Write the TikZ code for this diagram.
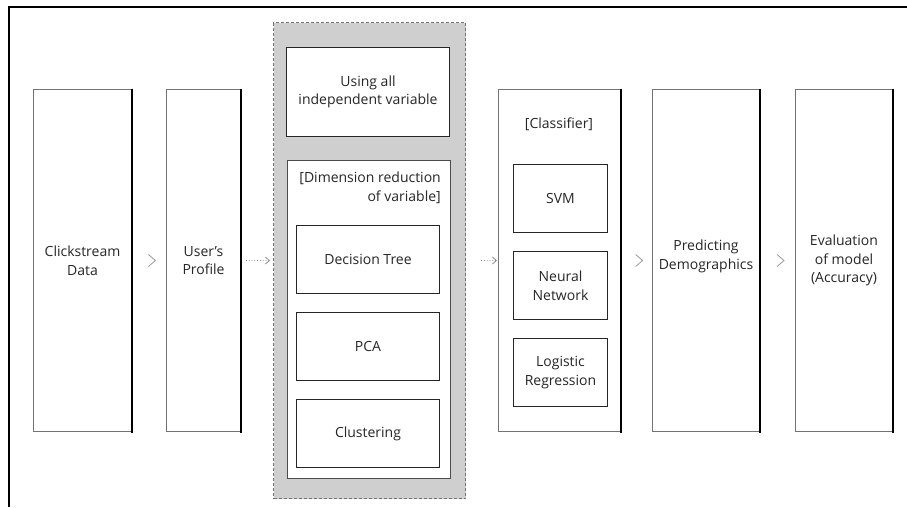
\documentclass[tikz,border=0pt]{standalone}
\usepackage{fontspec}
\setmainfont{Open Sans}
\usetikzlibrary{arrows.meta,calc}
\begin{document}
\begin{tikzpicture}[x=1pt,y=-1pt,
  txt/.style={font=\fontsize{14}{18.5}\selectfont, text=black!85},
  box/.style={txt, draw=black!55, line width=1pt, fill=white, anchor=north west,
    inner sep=0pt, align=center,
    append after command={(\tikzlastnode.north east) edge[black, line width=1.2pt, shorten <=-0.5pt, shorten >=-0.5pt] (\tikzlastnode.south east)}},
  inbox/.style={txt, draw=black!85, line width=1pt, fill=white, anchor=north west,
    inner sep=0pt, align=center},
  region/.style={draw=black!55, dashed, dash pattern=on 3pt off 2pt, line width=1.2pt,
    fill=black!19, anchor=north west, inner sep=0pt},
  chev/.style={draw=black!40, line width=0.8pt},
  dotarrow/.style={draw=black!45, line width=0.8pt, dotted, -{Straight Barb[length=4pt,width=7pt]}}
]
% page area and frame
\useasboundingbox (0,0) rectangle (907,507);
\draw[line width=1.4pt] (9,507) -- (9,7) -- (907,7);

% main stages
\node[box, minimum width=98pt, minimum height=342pt] (click) at (33,89) {Clickstream\\Data};
\node[box, minimum width=74pt, minimum height=342pt] (profile) at (166,89) {User's\\Profile};

% variable selection group
\node[region, minimum width=192pt, minimum height=476pt] (group) at (273,22) {};
\node[inbox, minimum width=163pt, minimum height=89pt] (allvar) at (286,47) {Using all\\independent variable};
\node[inbox, draw=black!70, minimum width=163pt, minimum height=318pt] (dimred) at (287,160) {};
\node[txt, align=right, anchor=north east, inner sep=0pt] (dimlabel) at (441,172) {[Dimension reduction\\of variable]};
\node[inbox, minimum width=143pt, minimum height=68pt] (tree) at (296,225) {Decision Tree};
\node[inbox, minimum width=143pt, minimum height=68pt] (pca) at (296,312) {PCA};
\node[inbox, minimum width=143pt, minimum height=68pt] (clust) at (296,399) {Clustering};

% classifier group
\node[box, minimum width=122pt, minimum height=342pt] (classifier) at (498,89) {};
\node[txt, inner sep=0pt] (classlabel) at (559,124) {[Classifier]};
\node[inbox, minimum width=94pt, minimum height=68pt] (svm) at (513,164) {SVM};
\node[inbox, minimum width=94pt, minimum height=68pt] (nn) at (513,251) {Neural\\Network};
\node[inbox, minimum width=94pt, minimum height=68pt] (logit) at (513,338) {Logistic\\Regression};

% prediction and evaluation
\node[box, minimum width=107pt, minimum height=342pt, text depth=12pt] (predict) at (652,89) {Predicting\\Demographics};
\node[box, minimum width=97pt, minimum height=342pt] (eval) at (795,89) {Evaluation\\of model\\(Accuracy)};

% chevrons between stages
\foreach \a/\b in {click/profile, classifier/predict, predict/eval}{
  \coordinate (m) at ($(\a.east)!0.6!(\b.west)$);
  \draw[chev] ([shift={(-4,-6)}]m) -- ([shift={(3,0)}]m) -- ([shift={(-4,6)}]m);
}
% dotted links into and out of the group
\draw[dotarrow] ([xshift=5pt]profile.east) -- ([xshift=-3pt]group.west);
\draw[dotarrow] ([xshift=15pt]group.east) -- ([xshift=-1pt]classifier.west);
\end{tikzpicture}
\end{document}
